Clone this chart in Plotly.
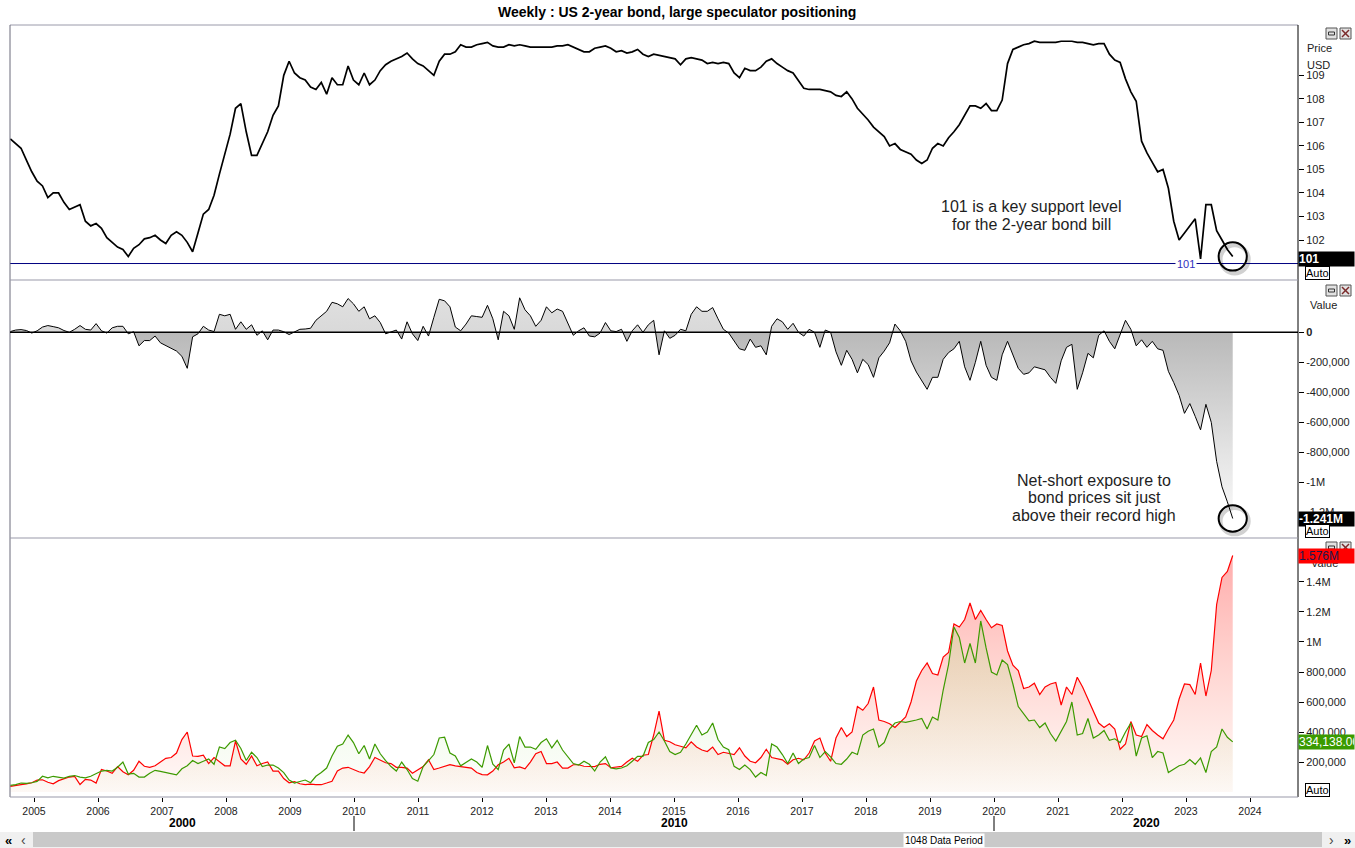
import numpy as np
import plotly.graph_objects as go

# ---------------- data (~monthly samples) ----------------
price = [106.3, 106.1, 105.9, 105.4, 104.9, 104.5, 104.3, 103.8, 104.0, 104.0,
         103.6, 103.3, 103.4, 103.5, 102.8, 102.6, 102.7, 102.5, 102.1, 101.9,
         101.7, 101.6, 101.3, 101.65, 101.8, 102.05, 102.1, 102.2, 102.0, 101.85,
         102.2, 102.35, 102.2, 101.9, 101.5, 102.3, 103.1, 103.3, 103.9, 104.8,
         105.6, 106.5, 107.6, 107.8, 106.6, 105.6, 105.6, 106.1, 106.6, 107.3,
         107.7, 109.0, 109.6, 109.1, 108.9, 108.8, 108.5, 108.4, 108.7, 108.2,
         108.9, 108.6, 108.6, 109.4, 108.8, 108.6, 109.1, 108.6, 108.8, 109.2,
         109.45, 109.6, 109.7, 109.8, 109.95, 109.7, 109.5, 109.4, 109.2, 109.0,
         109.6, 109.9, 109.9, 110.0, 110.3, 110.2, 110.2, 110.3, 110.35, 110.4,
         110.25, 110.2, 110.2, 110.3, 110.25, 110.3, 110.25, 110.2, 110.2, 110.2,
         110.2, 110.2, 110.25, 110.25, 110.3, 110.2, 110.1, 110.0, 110.0, 110.15,
         110.2, 110.25, 110.15, 110.0, 110.05, 109.95, 110.0, 110.1, 109.9, 109.8,
         109.9, 109.85, 109.8, 109.75, 109.7, 109.45, 109.7, 109.75, 109.7, 109.65,
         109.5, 109.55, 109.5, 109.55, 109.5, 109.1, 108.9, 109.3, 109.2, 109.2,
         109.35, 109.6, 109.7, 109.5, 109.35, 109.2, 109.1, 108.8, 108.45, 108.4,
         108.4, 108.4, 108.35, 108.3, 108.15, 108.1, 108.3, 108.0, 107.6, 107.35,
         107.1, 106.8, 106.6, 106.4, 106.0, 106.1, 105.85, 105.75, 105.65, 105.4,
         105.25, 105.4, 105.9, 106.1, 106.0, 106.35, 106.6, 106.9, 107.3, 107.7,
         107.7, 107.6, 107.8, 107.5, 107.5, 107.95, 109.5, 110.1, 110.2, 110.3,
         110.35, 110.45, 110.4, 110.4, 110.4, 110.4, 110.45, 110.45, 110.45, 110.4,
         110.4, 110.35, 110.3, 110.35, 110.35, 109.9, 109.65, 109.55, 108.85, 108.3,
         107.9, 106.2, 105.7, 105.3, 104.9, 105.0, 104.2, 102.8, 102.0, 102.3,
         102.6, 102.9, 101.2, 103.5, 103.5, 102.4, 102.0, 101.6, 101.3]

# large speculator net position (thousands of contracts)
net_k = [5, 15, 18, 12, -5, 10, 35, 45, 38, 30,
         12, 0, 20, 45, 20, 15, 58, 10, -5, 30,
         40, 40, -10, 4, -90, -55, -55, -25, -70, -90,
         -110, -125, -160, -240, -30, -10, 40, 15, 5, 120,
         110, 120, 20, 70, 20, 50, -20, 10, -50, 15,
         15, 4, -15, 5, 20, 22, 27, 80, 110, 140,
         200, 190, 170, 225, 190, 140, 170, 90, 110, 65,
         -10, 5, 15, -45, 70, -10, -55, 40, -25, 100,
         220, 210, 170, 35, 10, 55, 110, 105, 100, 180,
         90, -50, 140, 110, 20, 230, 150, 110, 40, 80,
         170, 130, 155, 140, 60, -20, 10, 30, -25, -30,
         -5, 65, 10, 5, 20, -60, 10, 50, 0, 50,
         80, -150, 10, -40, -20, 20, 10, 120, 170, 140,
         140, 165, 90, 20, -5, -60, -110, -120, -45, -100,
         -90, -150, 40, 90, 70, 20, 60, 0, -25, 20,
         0, -100, 15, 0, -130, -220, -120, -180, -270, -180,
         -215, -300, -170, -125, -70, 55, 10, -60, -190, -265,
         -320, -380, -300, -300, -180, -135, -110, -60, -230, -320,
         -200, -60, -220, -300, -320, -150, -60, -150, -240, -280,
         -270, -230, -240, -250, -300, -340, -190, -100, -80, -380,
         -270, -140, -170, -20, 10, -60, -110, -10, 80, 20,
         -90, -50, -100, -60, -110, -120, -260, -335, -420, -540,
         -475, -560, -650, -480, -600, -860, -1030, -1130, -1241]

# short positions (red) and long positions (green), thousands of contracts
shorts_k = [38, 42, 49, 55, 62, 80, 82, 65, 55, 76,
            90, 100, 104, 50, 85, 80, 60, 150, 140, 125,
            170, 135, 115, 145, 205, 172, 165, 175, 200, 225,
            230, 260, 350, 400, 240, 238, 245, 190, 230, 200,
            175, 175, 340, 220, 185, 240, 175, 190, 200, 140,
            140, 90, 62, 70, 55, 50, 53, 50, 49, 60,
            72, 140, 160, 165, 150, 135, 127, 170, 230, 210,
            195, 190, 165, 165, 160, 125, 150, 170, 215, 150,
            160, 172, 182, 175, 170, 165, 160, 130, 116, 115,
            140, 182, 200, 225, 162, 168, 155, 200, 255, 270,
            190, 190, 200, 160, 160, 182, 182, 172, 170, 170,
            185, 190, 162, 165, 171, 200, 225, 205, 245, 250,
            380, 540, 345, 335, 315, 305, 295, 335, 300, 280,
            270, 300, 250, 265, 260, 250, 295, 240, 205, 195,
            230, 285, 230, 225, 215, 185, 215, 225, 215, 260,
            340, 360, 260, 205, 360, 430, 370, 400, 570, 545,
            590, 700, 480, 470, 455, 430, 465, 500, 600, 740,
            810, 860, 790, 780, 900, 930, 1120, 1100, 1150, 1260,
            1150, 1210, 1150, 1095, 1120, 1110, 940, 845, 810, 690,
            700, 725, 650, 700, 720, 730, 580, 700, 650, 765,
            700, 620, 545, 460, 430, 455, 420, 285, 320, 470,
            380, 370, 450, 410, 380, 355, 420, 480, 620, 720,
            716, 650, 860, 640, 810, 1250, 1430, 1470, 1576]

longs_k = [45, 50, 60, 58, 62, 71, 105, 95, 105, 100,
           93, 105, 110, 100, 95, 105, 120, 140, 145, 140,
           165, 200, 120, 125, 100, 100, 125, 145, 138, 130,
           125, 115, 155, 175, 210, 190, 205, 220, 185, 300,
           290, 330, 345, 290, 210, 265, 230, 170, 180, 180,
           160, 130, 80, 60, 70, 80, 62, 105, 130, 160,
           240, 305, 320, 380, 330, 255, 310, 220, 320, 255,
           210, 170, 140, 200, 150, 90, 72, 170, 210, 250,
           360, 365, 260, 240, 175, 200, 220, 200, 165, 310,
           185, 150, 280, 320, 195, 370, 300, 300, 285, 330,
           355, 295, 345, 280, 235, 190, 180, 205, 185, 140,
           200, 235, 160, 155, 160, 175, 205, 238, 238, 330,
           350, 400, 340, 270, 250, 265, 320, 380, 445, 380,
           400, 460, 350, 300, 282, 171, 150, 180, 150, 100,
           130, 110, 320, 300, 250, 190, 260, 190, 220, 230,
           310, 230, 270, 235, 190, 185, 220, 265, 250, 380,
           405, 420, 300, 330, 420, 460, 470, 465, 470, 480,
           490, 420, 500, 480, 680, 850, 1100, 1030, 860, 990,
           860, 1140, 960, 800, 780, 880, 850, 720, 570, 525,
           475, 480, 430, 460, 390, 340, 410, 470, 600, 380,
           390, 490, 360, 380, 410, 345, 355, 330, 400, 460,
           240, 360, 375, 230, 270, 260, 130, 150, 175, 185,
           216, 185, 227, 130, 270, 300, 420, 365, 334.138]

year_ticks = list(range(2005, 2025))
decades = [("2000", 2004.63, 2010), ("2010", 2010, 2020), ("2020", 2020, 2024.75)]
support_level = 101
price_ticks = [102, 103, 104, 105, 106, 107, 108, 109]
net_ticks = [0, -200000, -400000, -600000, -800000, -1000000, -1200000]
net_ticktext = ["<b>0</b>", "-200,000", "-400,000", "-600,000", "-800,000", "-1M", "-1.2M"]
pos_ticks = [200000, 400000, 600000, 800000, 1000000, 1200000, 1400000]
pos_ticktext = ["200,000", "400,000", "600,000", "800,000", "1M", "1.2M", "1.4M"]

# time axis (weekly chart sampled ~monthly), decimal years
years = np.linspace(2004.63, 2023.73, len(price))
net = np.array(net_k) * 1000
shorts = np.array(shorts_k) * 1000
longs = np.array(longs_k) * 1000

# ---------------- layout helpers ----------------
W, H = 1355, 848
L, R, T, B = 10, 57, 25, 51
PW, PH = W - L - R, H - T - B
def PX(p):
    return (p - L) / PW
def PY(p):
    return (H - B - p) / PH

FONT = "Liberation Sans, Arial, sans-serif"
XR = [2004.625, 2024.75]

fig = go.Figure()

# top: price
fig.add_trace(go.Scatter(x=years, y=price, mode="lines", yaxis="y",
                         line=dict(color="black", width=1.7), hoverinfo="skip"))
# middle: net positioning
fig.add_trace(go.Scatter(x=years, y=net, mode="lines", yaxis="y2", fill="tozeroy",
                         line=dict(color="black", width=1),
                         fillgradient=dict(type="vertical", start=-1300000, stop=350000,
                                           colorscale=[[0, "#fbfbfb"], [0.3, "#e4e4e4"],
                                                       [0.786, "#b9b9b9"], [0.79, "#d9d9d9"],
                                                       [1, "#e3e3e3"]]),
                         hoverinfo="skip"))
# bottom: fills
fig.add_trace(go.Scatter(x=years, y=shorts, mode="lines", yaxis="y3", fill="tozeroy",
                         line=dict(width=0, color="rgba(0,0,0,0)"),
                         fillgradient=dict(type="vertical", start=0, stop=1600000,
                                           colorscale=[[0, "rgba(255,60,20,0.03)"],
                                                       [1, "rgba(255,0,0,0.33)"]]),
                         hoverinfo="skip"))
fig.add_trace(go.Scatter(x=years, y=longs, mode="lines", yaxis="y3", fill="tozeroy",
                         line=dict(width=0, color="rgba(0,0,0,0)"),
                         fillgradient=dict(type="vertical", start=0, stop=1600000,
                                           colorscale=[[0, "rgba(150,210,90,0.02)"],
                                                       [1, "rgba(140,230,100,0.30)"]]),
                         hoverinfo="skip"))
fig.add_trace(go.Scatter(x=years, y=shorts, mode="lines", yaxis="y3",
                         line=dict(color="#ff0000", width=1.2), hoverinfo="skip"))
fig.add_trace(go.Scatter(x=years, y=longs, mode="lines", yaxis="y3",
                         line=dict(color="#3c9a00", width=1.2), hoverinfo="skip"))

axis_common = dict(showgrid=False, zeroline=False, side="right", anchor="x",
                   ticks="outside", ticklen=5, tickcolor="black", automargin=False,
                   tickfont=dict(family=FONT, size=11, color="#222"), showline=False)

fig.update_layout(
    width=W, height=H, margin=dict(l=L, r=R, t=T, b=B, autoexpand=False),
    paper_bgcolor="white", plot_bgcolor="white", showlegend=False,
    font=dict(family=FONT, color="#222"),
    xaxis=dict(range=XR, anchor="y3", showgrid=False, zeroline=False, showline=False,
               automargin=False,
               tickmode="array", tickvals=year_ticks, ticktext=[str(v) for v in year_ticks],
               ticks="outside", ticklen=4, tickcolor="black",
               tickfont=dict(family=FONT, size=10.5, color="#222")),
    yaxis=dict(domain=[PY(280), 1], range=[100.3, 111.14], tickvals=price_ticks,
               **axis_common),
    yaxis2=dict(domain=[PY(538), PY(280)], range=[-1371000, 348700],
                tickvals=net_ticks, ticktext=net_ticktext, **axis_common),
    yaxis3=dict(domain=[0, PY(538)], range=[-33000, 1693000],
                tickvals=pos_ticks, ticktext=pos_ticktext, **axis_common),
)

shapes = []
grey = "#9a9aaa"
# frame
shapes.append(dict(type="line", xref="paper", yref="paper", x0=0, x1=1, y0=1, y1=1,
                   line=dict(color=grey, width=1)))
shapes.append(dict(type="line", xref="paper", yref="paper", x0=0, x1=0, y0=0, y1=1,
                   line=dict(color="#6a6a7a", width=1)))
shapes.append(dict(type="line", xref="paper", yref="paper", x0=1, x1=1, y0=0, y1=1,
                   line=dict(color="black", width=1)))
for yp in (280, 538, 797):
    shapes.append(dict(type="line", xref="paper", yref="paper", x0=0, x1=1,
                       y0=PY(yp), y1=PY(yp), line=dict(color=grey, width=1.2)))
# support line at 101
shapes.append(dict(type="line", xref="paper", yref="y", x0=0, x1=1,
                   y0=support_level, y1=support_level, line=dict(color="#000080", width=1),
                   layer="below"))
# zero line middle panel
shapes.append(dict(type="line", xref="paper", yref="y2", x0=0, x1=1, y0=0, y1=0,
                   line=dict(color="black", width=1.5), layer="above"))
# circles around the latest readings
rx = 0.22
for yref, yc, ry in (("y", price[-1], 0.6), ("y2", net[-1], 88000)):
    shapes.append(dict(type="circle", xref="x", yref=yref,
                       x0=years[-1] - rx + 0.03, x1=years[-1] + rx + 0.03,
                       y0=yc - ry - ry * 0.2, y1=yc + ry - ry * 0.2,
                       line=dict(color="rgba(0,0,0,0.18)", width=4)))
    shapes.append(dict(type="circle", xref="x", yref=yref,
                       x0=years[-1] - rx, x1=years[-1] + rx, y0=yc - ry, y1=yc + ry,
                       line=dict(color="black", width=2)))
# decade separators
for d in (2010, 2020):
    shapes.append(dict(type="line", xref="x", yref="paper", x0=d, x1=d,
                       y0=PY(831), y1=PY(816), line=dict(color="black", width=1)))
# scroll bar
shapes.append(dict(type="rect", xref="paper", yref="paper", x0=PX(0), x1=PX(W),
                   y0=PY(848), y1=PY(832), fillcolor="#f0f0f0", line=dict(width=0)))
shapes.append(dict(type="rect", xref="paper", yref="paper", x0=PX(33), x1=PX(1322),
                   y0=PY(847), y1=PY(832), fillcolor="#c9c9c9", line=dict(width=0)))
# window buttons
for yt in (28, 285, 542):
    shapes.append(dict(type="rect", xref="paper", yref="paper", x0=PX(1326), x1=PX(1337),
                       y0=PY(yt + 11), y1=PY(yt), fillcolor="#e2e2e2",
                       line=dict(color="#555", width=1)))
    shapes.append(dict(type="rect", xref="paper", yref="paper", x0=PX(1328.5), x1=PX(1334.5),
                       y0=PY(yt + 7), y1=PY(yt + 4), line=dict(color="#333", width=1)))
    shapes.append(dict(type="rect", xref="paper", yref="paper", x0=PX(1340), x1=PX(1351),
                       y0=PY(yt + 11), y1=PY(yt), fillcolor="#e2e2e2",
                       line=dict(color="#555", width=1)))
    for (a, b, c, d) in ((1342, yt + 2, 1349, yt + 9), (1349, yt + 2, 1342, yt + 9)):
        shapes.append(dict(type="line", xref="paper", yref="paper", x0=PX(a), x1=PX(c),
                           y0=PY(b), y1=PY(d), line=dict(color="#7a2a2a", width=1.5)))
fig.update_layout(shapes=shapes)

ann = []
def text(px, py, s, size=11, color="#222", xanchor="center", **kw):
    ann.append(dict(x=PX(px), y=PY(py), xref="paper", yref="paper", text=s,
                    showarrow=False, xanchor=xanchor, yanchor="middle",
                    font=dict(family=FONT, size=size, color=color), **kw))

text(677, 12, "<b>Weekly : US 2-year bond, large speculator positioning</b>", size=14, color="black")
text(1031, 207, "101 is a key support level", size=16, color="#1e1e1e")
text(1031, 224, "for the 2-year bond bill", size=16, color="#1e1e1e")
text(1094, 480, "Net-short exposure to", size=16, color="#1e1e1e")
text(1094, 498, "bond prices sit just", size=16, color="#1e1e1e")
text(1094, 515, "above their record high", size=16, color="#1e1e1e")
ann.append(dict(x=2023.0, y=support_level, xref="x", yref="y", text="101", showarrow=False,
                bgcolor="white", font=dict(family=FONT, size=11, color="#3030c0"),
                xanchor="center", yanchor="middle", borderpad=1))
text(1305, 48, "Price", xanchor="left")
text(1305, 65, "USD", xanchor="left")
text(1308, 305, "Value", xanchor="left")
text(1309, 563, "Value", xanchor="left")
for lab, a, b in decades:
    ann.append(dict(x=(a + b) / 2, y=PY(823), xref="x", yref="paper", text="<b>%s</b>" % lab,
                    showarrow=False, font=dict(family=FONT, size=12, color="black"),
                    xanchor="center", yanchor="middle"))
text(944, 840, "1048 Data Period", size=10, color="black", bgcolor="white", borderpad=1)
text(8, 840, "<b>«</b>", size=13, color="black")
text(23, 840, "‹", size=14, color="#444")
text(1331, 840, "›", size=14, color="#444")
text(1347, 840, "<b>»</b>", size=13, color="black")

# value boxes on the right axis
def box(yref, yv, s, bg, fc, yshift=0, bold=True):
    ann.append(dict(x=1.0, y=yv, xref="paper", yref=yref, xanchor="left", yanchor="middle",
                    text=("<b>%s</b>" % s) if bold else s, showarrow=False, bgcolor=bg,
                    width=55, align="left", borderpad=0, yshift=yshift,
                    font=dict(family=FONT, size=12, color=fc)))
def auto(py):
    text(1305, py, "Auto", size=11, color="black", xanchor="left",
         bgcolor="white", bordercolor="black", borderwidth=1, borderpad=0)

box("y", support_level, "%d" % support_level, "black", "white", yshift=5)
auto(273)
box("y2", net[-1], "%.3fM" % (net_k[-1] / 1000), "black", "white")
auto(531)
box("y3", shorts[-1], "%.3fM" % (shorts_k[-1] / 1000), "#ff0000", "#1a1a50", bold=False)
box("y3", longs[-1], "{:,.2f}".format(longs_k[-1] * 1000), "#3a9b00", "white", bold=False)
auto(790)

fig.update_layout(annotations=ann)
fig.write_html("out.html")
